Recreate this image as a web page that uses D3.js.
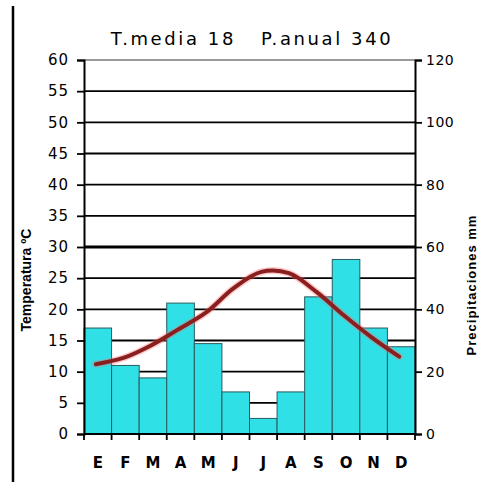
<!DOCTYPE html>
<html><head><meta charset="utf-8">
<script src="https://cdn.jsdelivr.net/npm/d3@7"></script>
<style>body{margin:0;background:#fff}svg{display:block}</style>
</head><body>
<script>
const months = ["E","F","M","A","M","J","J","A","S","O","N","D"];
const precip = [34,22,18,42,29,13.5,5,13.5,44,56,34,28];
const temp = [11.2,12.2,14.2,16.8,19.5,23.4,26,25.8,22.8,19,15.5,12.4];
const tempTicks = [0,5,10,15,20,25,30,35,40,45,50,55,60];
const precipTicks = [0,20,40,60,80,100,120];
const title = "T.media 18   P.anual 340";

const W=479,H=482;
const svg=d3.select("body").append("svg").attr("width",W).attr("height",H);
const L=84,R=415,T=60,B=434;
const x=d3.scaleBand().domain(d3.range(12)).range([L,R]).padding(0);
const yT=d3.scaleLinear().domain([0,60]).range([B,T]);
const yP=d3.scaleLinear().domain([0,120]).range([B,T]);
const font="'DejaVu Sans', Verdana, sans-serif";
const font2="'Liberation Sans', Arial, sans-serif";

// frame line on left
svg.append("line").attr("x1",13).attr("x2",13).attr("y1",6).attr("y2",H).attr("stroke","#000").attr("stroke-width",2.5);

// gridlines
svg.append("g").selectAll("line").data(tempTicks.filter(d=>d>0)).join("line")
  .attr("x1",L).attr("x2",R).attr("y1",d=>yT(d)).attr("y2",d=>yT(d))
  .attr("stroke",d=>d===60?"#777":"#000").attr("stroke-width",d=>d===30?3.2:(d===60?1.5:1.8));

// bars
svg.append("g").selectAll("rect").data(precip).join("rect")
  .attr("x",(d,i)=>x(i)).attr("width",x.bandwidth())
  .attr("y",d=>yP(d)).attr("height",d=>B-yP(d))
  .attr("fill","#2fe0e6").attr("stroke","#2a5a5e").attr("stroke-width",1);

// temperature line
const line=d3.line().x((d,i)=>x(i)+x.bandwidth()/2-2).y(d=>yT(d)).curve(d3.curveCatmullRom.alpha(0.5));
svg.append("path").datum(temp).attr("d",line).attr("fill","none").attr("stroke","#ff6a6a").attr("stroke-opacity",0.35).attr("stroke-width",7).attr("stroke-linecap","round");
svg.append("path").datum(temp).attr("d",line).attr("fill","none").attr("stroke","#8a1f1f").attr("stroke-width",4).attr("stroke-linecap","round");

// left axis
const gl=svg.append("g").attr("transform",`translate(${L},0)`)
  .call(d3.axisLeft(yT).tickValues(tempTicks).tickSize(7).tickPadding(8));
gl.select(".domain").attr("stroke-width",2);
gl.selectAll(".tick line").attr("stroke-width",1.8);
gl.selectAll("text").attr("font-family",font).attr("font-size",15).attr("letter-spacing",1).attr("fill","#000");

// right axis
const gr=svg.append("g").attr("transform",`translate(${R},0)`)
  .call(d3.axisRight(yP).tickValues(precipTicks).tickSize(7).tickPadding(4));
gr.select(".domain").attr("stroke-width",2);
gr.selectAll(".tick line").attr("stroke-width",1.8);
gr.selectAll("text").attr("font-family",font).attr("font-size",14).attr("letter-spacing",0.5).attr("fill","#000");

// bottom axis
const gb=svg.append("g").attr("transform",`translate(0,${B})`);
gb.append("line").attr("x1",L).attr("x2",R).attr("stroke","#000").attr("stroke-width",2);
gb.selectAll("line.t").data(d3.range(13)).join("line").attr("class","t")
  .attr("x1",i=>L+i*x.bandwidth()).attr("x2",i=>L+i*x.bandwidth()).attr("y1",0).attr("y2",6)
  .attr("stroke","#000").attr("stroke-width",1.8);
gb.selectAll("text").data(months).join("text")
  .attr("x",(d,i)=>x(i)+x.bandwidth()/2).attr("y",34).attr("text-anchor","middle")
  .attr("font-family",font).attr("font-size",15).attr("font-weight","bold").text(d=>d);

// title
svg.append("text").attr("x",252).attr("y",45).attr("text-anchor","middle")
  .attr("font-family",font).attr("font-size",18).attr("letter-spacing",2.6)
  .attr("xml:space","preserve").style("white-space","pre").text(title);

// axis titles
svg.append("text").attr("transform","translate(31,280) rotate(-90)").attr("text-anchor","middle")
  .attr("font-family",font2).attr("font-size",14).attr("font-weight","bold").text("Temperatura ºC");
svg.append("text").attr("transform","translate(476,285) rotate(-90)").attr("text-anchor","middle")
  .attr("font-family",font2).attr("font-size",13).attr("font-weight","bold").attr("letter-spacing",1).text("Precipitaciones mm");
</script>
</body></html>
